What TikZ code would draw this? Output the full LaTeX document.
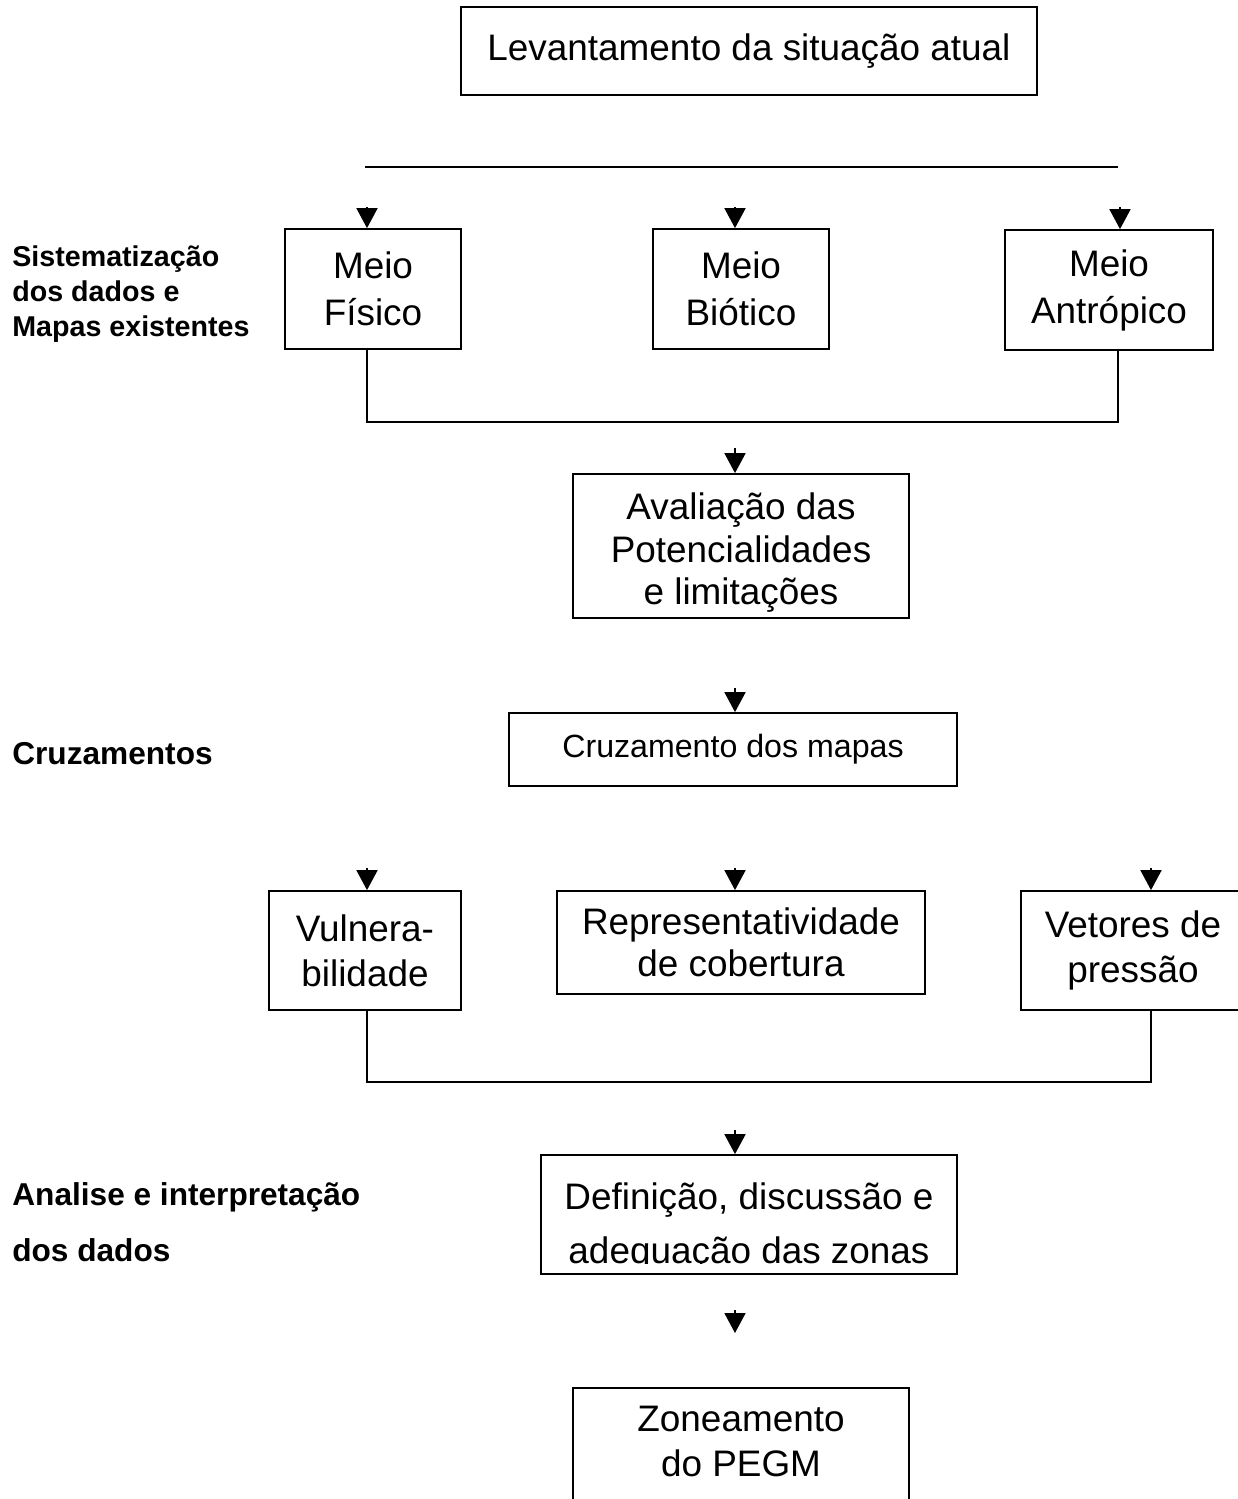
\documentclass[tikz,border=0pt]{standalone}
\usepackage{fontspec}
\setmainfont{Liberation Sans}
\usetikzlibrary{arrows.meta}

\tikzset{
  box/.style={draw,line width=1pt,inner sep=0pt,align=center,font=\fontsize{21}{26}\selectfont},
  sz/.style 2 args={minimum width=#1*0.02cm,minimum height=#2*0.02cm},
  wire/.style={line width=1pt},
  arw/.style={line width=1pt,-{Triangle[length=0.4cm,width=0.42cm]}},
  side/.style={anchor=west,align=left,inner sep=0pt,font=\bfseries\fontsize{18}{32}\selectfont}
}

\begin{document}
\begin{tikzpicture}[x=0.02cm,y=-0.02cm]
  \useasboundingbox (0,0) rectangle (1238,1499);
  % top
  \node[box,sz={576}{88}] (lev) at (749,51) {Levantamento da situação atual};
  \coordinate (h1) at (365,167); \coordinate (h2) at (1118,167);
  \draw[wire] (h1) -- (h2);
  % meios
  \node[side,font=\bfseries\fontsize{16.3}{19.8}\selectfont] (sist) at (12,294)
    {Sistematização\\dos dados e\\Mapas existentes};
  \node[box,sz={176}{120},font=\fontsize{21}{26.8}\selectfont] (fis) at (373,289) {Meio\\Físico};
  \node[box,sz={176}{120},font=\fontsize{21}{26.8}\selectfont] (bio) at (741,289) {Meio\\Biótico};
  \node[box,sz={208}{120},font=\fontsize{21}{26.8}\selectfont] (ant) at (1109,290) {Meio\\Antrópico};
  \foreach \x/\n in {367/fis,735/bio,1120/ant}
    \draw[arw] (\x,207) -- (\x,207 |- \n.north);
  \draw[wire] (fis.south -| 367,0) |- (1118,422) -- (ant.south -| 1118,0);
  % avaliacao
  \node[box,sz={336}{144},font=\fontsize{21}{24.2}\selectfont] (aval) at (741,546)
    {\rule{0pt}{23pt}Avaliação das\\Potencialidades\\e limitações};
  \coordinate (j1) at (735,448);
  \draw[arw] (j1) -- (j1 |- aval.north);
  % cruzamentos
  \node[side] (cruzlbl) at (12,754) {Cruzamentos};
  \node[box,sz={448}{73},font=\fontsize{18.3}{22}\selectfont] (cruz) at (733,749.5) {Cruzamento dos mapas};
  \coordinate (j2) at (735,688);
  \draw[arw] (j2) -- (j2 |- cruz.north);
  \node[box,sz={192}{119},font=\fontsize{21}{25.6}\selectfont] (vul) at (365,950.5) {Vulnera-\\bilidade};
  \node[box,sz={368}{103},font=\fontsize{21}{24}\selectfont] (rep) at (741,942.5) {Representatividade\\de cobertura};
  \node[box,sz={224}{119},font=\fontsize{21}{25.6}\selectfont] (vet) at (1133,950.5) {Vetores de\\pressão};
  \foreach \x/\n in {367/vul,735/rep,1151/vet}
    \draw[arw] (\x,868) -- (\x,868 |- \n.north);
  \draw[wire] (vul.south -| 367,0) |- (1151,1082) -- (vet.south -| 1151,0);
  % analise
  \node[side] (anal) at (12,1222) {Analise e interpretação\\dos dados};
  \node[box,sz={416}{119}] (defi) at (749,1214.5) {};
  \begin{scope}
    \clip (545,1160) rectangle (935,1263);
    \node[align=center,inner sep=0pt,font=\fontsize{21}{30.2}\selectfont] (defitxt) at (749,1227)
      {Definição, discussão e\\adequação das zonas};
  \end{scope}
  \coordinate (j3) at (735,1130);
  \draw[arw] (j3) -- (j3 |- defi.north);
  % zoneamento
  \coordinate (k1) at (735,1310); \coordinate (k2) at (735,1333);
  \draw[arw] (k1) -- (k2);
  \node[box,sz={336}{160},anchor=north] (zon) at (741,1387) {};
  \node[align=center,inner sep=0pt,font=\fontsize{21}{25.6}\selectfont] (zontxt) at (zon.north |- 0,1441)
    {Zoneamento\\do PEGM};
\end{tikzpicture}
\end{document}
